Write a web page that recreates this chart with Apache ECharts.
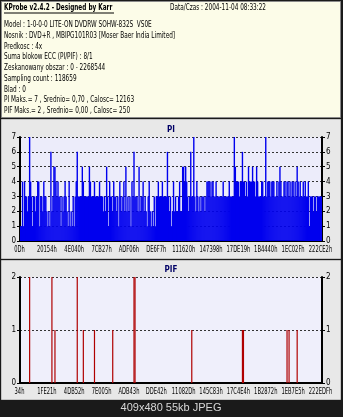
<!DOCTYPE html>
<html><head><meta charset="utf-8">
<script src="https://cdn.jsdelivr.net/npm/echarts@6/dist/echarts.min.js"></script>
<style>html,body{margin:0;padding:0;background:#1a1a1a}#c{width:343px;height:417px}</style>
</head><body><div id="c"></div>
<script>
// ---- data ----
const piTicks = ['0Dh','20154h','4E040h','7CB27h','ADF06h','DE6F7h','111620h','147398h','17DE19h','1B4440h','1EC02Fh','222CE2h'];
const pifTicks = ['34h','1FE21h','4DB52h','7E005h','ADB43h','DDE42h','11082Dh','145C83h','17C4E4h','1B2872h','1EB7E5h','222EDFh'];
const piValues = [
1,1,4,1,4,3,3,2,3,7,
4,3,1,3,3,2,3,4,4,1,
3,3,2,4,3,3,2,1,2,1,
6,2,3,5,5,4,3,4,3,3,
1,3,2,3,4,3,2,1,4,1,
2,1,3,1,3,4,6,3,3,3,
3,5,4,3,3,3,3,3,5,4,
3,3,3,4,3,3,3,3,4,3,
3,3,2,3,2,5,3,1,4,3,
3,2,4,3,3,2,3,1,4,3,
2,3,4,2,5,2,3,2,3,1,
4,3,6,3,3,3,2,5,2,3,
3,4,2,3,2,1,3,4,2,1,
2,1,3,1,3,3,4,3,3,3,
4,3,3,3,3,6,3,2,3,1,
2,4,2,3,2,2,3,4,2,2,
5,5,4,5,4,3,2,3,6,3,
3,7,3,2,4,3,2,3,2,3,
3,3,2,3,4,4,4,4,3,4,
4,3,3,4,3,3,3,3,3,3,
4,3,3,3,3,3,4,3,3,3,
3,7,5,4,4,4,3,4,4,6,
4,4,3,4,3,5,4,4,4,5,
4,4,3,5,4,3,3,3,4,4,
3,3,7,3,4,4,4,3,4,4,
4,3,3,4,3,4,5,4,3,3,
4,4,3,4,4,3,4,3,4,4,
3,4,3,5,4,3,4,3,3,4,
3,4,3,3,4,1,3,3,3,2,
3,3,2,3,3,3,3,3
];
const pifValues = [
0,0,0,0,0,0,0,0,0,2,
0,0,0,0,0,0,0,0,0,0,
0,0,0,0,0,0,0,0,0,0,
0,2,0,0,1,0,0,0,0,0,
0,0,0,0,0,0,0,0,0,0,
0,0,0,0,0,0,2,0,0,0,
0,0,1,0,0,0,0,0,0,0,
0,0,0,1,0,0,0,0,0,0,
0,0,0,0,0,0,0,0,0,0,
0,1,0,0,0,0,0,0,0,0,
0,0,0,0,0,0,0,0,0,0,
0,0,2,2,0,0,0,0,0,0,
0,0,0,0,0,0,0,0,0,0,
0,0,0,0,0,0,0,0,0,0,
0,0,0,0,0,0,0,0,0,0,
0,0,0,0,0,0,0,0,0,0,
0,0,0,0,0,0,0,0,0,1,
0,0,0,0,0,0,0,0,0,0,
0,0,0,0,0,0,0,0,0,0,
0,0,0,0,0,0,0,0,0,0,
0,0,0,0,0,0,0,0,0,0,
0,0,0,0,0,0,0,0,0,1,
1,0,0,0,0,0,0,0,0,0,
0,0,0,0,0,0,0,0,0,0,
0,0,0,0,0,0,0,0,0,0,
0,0,0,0,0,0,0,0,0,0,
0,0,0,1,0,1,0,0,0,0,
0,0,0,1,0,0,0,0,0,0,
0,0,0,0,0,0,0,0,0,0,
0,0,0,0,0,0,0,0
];
const headerTitle = 'KProbe v2.4.2 - Designed by Karr';
const headerDate = 'Data/Czas : 2004-11-04 08:33:22';
const infoLines = [
'Model : 1-0-0-0 LITE-ON DVDRW SOHW-832S  VS0E',
'Nosnik : DVD+R , MBIPG101R03 [Moser Baer India Limited]',
'Predkosc : 4x',
'Suma blokow ECC (PI/PIF) : 8/1',
'Zeskanowany obszar : 0 - 2268544',
'Sampling count : 118659',
'Blad : 0',
'PI Maks.= 7 , Srednio= 0,70 , Calosc= 12163',
'PIF Maks.= 2 , Srednio= 0,00 , Calosc= 250'
];
const footer = '409x480 55kb JPEG';

// ---- build ----
const N = piValues.length;
const step = (N - 1) / (piTicks.length - 1);
const cats = piValues.map((_, i) => String(i));
const FONT = "'Liberation Sans Narrow','DejaVu Sans Condensed',Arial,sans-serif";
const SX = 0.8;

const chart = echarts.init(document.getElementById('c'), null, {renderer: 'canvas'});

const graphics = [
  {type:'rect', z:-20, shape:{x:0,y:0,width:343,height:417}, style:{fill:'#1a1a1a'}},
  {type:'rect', z:-10, shape:{x:1.5,y:1.5,width:339,height:116}, style:{fill:'#fcfce8', stroke:'#8a8a8a', lineWidth:1}},
  {type:'rect', z:-10, shape:{x:1.5,y:119.5,width:339,height:139}, style:{fill:'#e8e8e8', stroke:'#c4c4c4', lineWidth:1}},
  {type:'rect', z:-10, shape:{x:1.5,y:260.5,width:339,height:139}, style:{fill:'#e8e8e8', stroke:'#c4c4c4', lineWidth:1}},
  {type:'text', z:10, x:4, y:8, scaleX:SX, style:{text:headerTitle, font:"bold 8px " + FONT, fill:'#000', verticalAlign:'middle'}},
  {type:'line', z:10, shape:{x1:4,y1:13,x2:114,y2:13}, style:{stroke:'#000', lineWidth:1}},
  {type:'text', z:10, x:170, y:8, scaleX:SX, style:{text:headerDate, font:"8px " + FONT, fill:'#000', verticalAlign:'middle'}},
  {type:'text', z:10, x:171, y:130, style:{text:'PI', font:"bold 8px " + FONT, fill:'#000066', align:'center', verticalAlign:'middle'}},
  {type:'text', z:10, x:171, y:270, style:{text:'PIF', font:"bold 8px " + FONT, fill:'#000066', align:'center', verticalAlign:'middle'}},
  {type:'text', z:10, x:171, y:408, style:{text:footer, font:"11px 'Liberation Sans',Arial,sans-serif", fill:'#d8d8d8', align:'center', verticalAlign:'middle'}}
];
infoLines.forEach((t, i) => {
  graphics.push({type:'text', z:10, x:4, y:25 + i * 10.75, scaleX:SX, style:{text:t, font:"8px " + FONT, fill:'#000', verticalAlign:'middle'}});
});

function yAx(gi, max, pos) {
  return {
    gridIndex: gi, type:'value', min:0, max:max, interval:1, position:pos,
    axisLine:{show:true, lineStyle:{color:'#000', width:2}},
    axisTick:{show:true, length:3, lineStyle:{color:'#000'}},
    axisLabel:{show:true, color:'#000', fontSize:8, fontFamily:FONT, margin:4},
    splitLine:{show: pos === 'left', lineStyle:{color:'#333', type:[2,2], width:1}}
  };
}
function xAx(gi) {
  return {
    gridIndex: gi, type:'category', data: cats, boundaryGap:true,
    axisLine:{show:true, lineStyle:{color:'#000', width:2}},
    axisTick:{show:false},
    axisLabel:{show:false},
    splitLine:{show:false}
  };
}

chart.setOption({
  animation:false,
  backgroundColor:'#1a1a1a',
  graphic: graphics,
  grid:[
    {left:20, top:137, width:302, height:104, show:true, backgroundColor:'#ececfa', borderWidth:0, outerBoundsMode:'none'},
    {left:20, top:277, width:302, height:106, show:true, backgroundColor:'#efeffb', borderWidth:0, outerBoundsMode:'none'}
  ],
  xAxis:[xAx(0), xAx(1)],
  yAxis:[yAx(0, 7, 'left'), yAx(0, 7, 'right'), yAx(1, 2, 'left'), yAx(1, 2, 'right')],
  series:[
    {type:'bar', xAxisIndex:0, yAxisIndex:0, data:piValues, barWidth:1.4, barCategoryGap:'0%',
     itemStyle:{color:'#0000ee'}, silent:true},
    {type:'bar', xAxisIndex:1, yAxisIndex:2, data:pifValues, barWidth:1.2, barCategoryGap:'0%',
     itemStyle:{color:'#b00000'}, silent:true}
  ]
});

// x-axis tick labels, placed through the category axes' own scales (horizontally condensed text)
function addXLabels(ticks, xi, yi) {
  const y0 = chart.convertToPixel({yAxisIndex: yi}, 0);
  ticks.forEach((t, k) => {
    const x = chart.convertToPixel({xAxisIndex: xi}, k * step);
    graphics.push({type:'text', z:10, x: x - 1, y: y0 + 9, scaleX: 0.72,
      style:{text:t, font:"8px " + FONT, fill:'#000', align:'center', verticalAlign:'middle'}});
  });
}
addXLabels(piTicks, 0, 0);
addXLabels(pifTicks, 1, 2);
chart.setOption({graphic: graphics});
</script></body></html>
